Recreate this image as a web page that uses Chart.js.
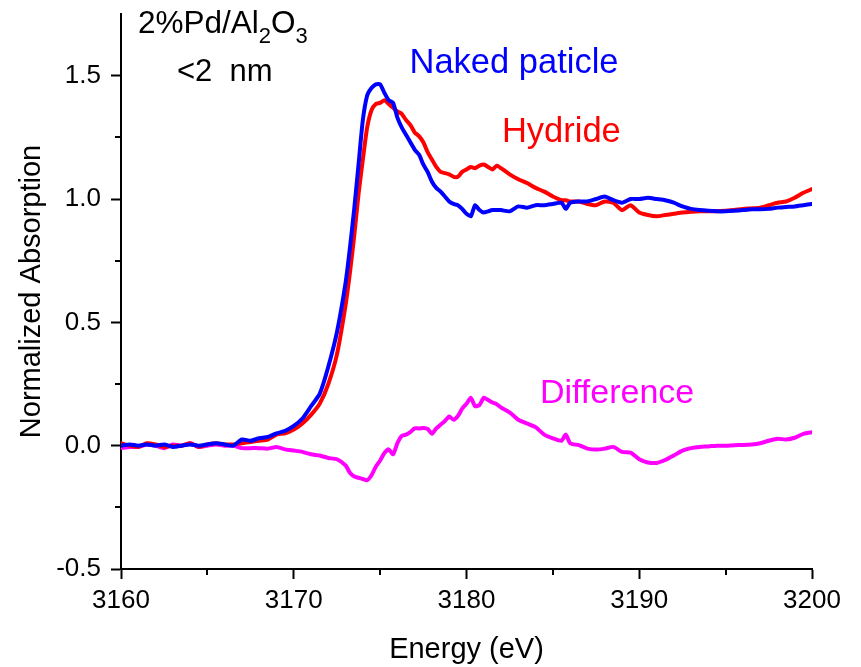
<!DOCTYPE html>
<html>
<head>
<meta charset="utf-8">
<script src="https://cdn.jsdelivr.net/npm/chart.js@4/dist/chart.umd.min.js"></script>
<style>
  body { margin: 0; background: #fff; }
  #wrap { width: 861px; height: 667px; position: relative; }
</style>
</head>
<body>
<div id="wrap"><canvas id="xasChart"></canvas></div>
<script>
// Pd L3-edge XANES, 2%Pd/Al2O3 (<2 nm)
const energy = [
  3160, 3160.5, 3161, 3161.5, 3162, 3162.5, 3163, 3163.5, 3164, 3164.5,
  3165, 3165.5, 3166, 3166.5, 3167, 3167.5, 3168, 3168.5, 3169, 3169.5,
  3170, 3170.5, 3171, 3171.5, 3172, 3172.5, 3173, 3173.25, 3173.5, 3173.75,
  3174, 3174.25, 3174.5, 3174.75, 3175, 3175.25, 3175.5, 3175.75, 3176, 3176.25,
  3176.5, 3176.75, 3177, 3177.25, 3177.5, 3177.75, 3178, 3178.25, 3178.5, 3178.75,
  3179, 3179.25, 3179.5, 3179.75, 3180, 3180.25, 3180.5, 3180.75, 3181, 3181.25,
  3181.5, 3181.75, 3182, 3182.5, 3183, 3183.5, 3184, 3184.5, 3185, 3185.5,
  3185.75, 3186, 3186.5, 3187, 3187.5, 3188, 3188.5, 3189, 3189.5, 3190,
  3190.5, 3191, 3191.5, 3192, 3192.5, 3193, 3193.5, 3194, 3194.5, 3195,
  3195.5, 3196, 3196.5, 3197, 3197.5, 3198, 3198.5, 3199, 3199.5, 3200
];
const naked = [
  0.00, 0.005, 0.00, 0.005, 0.00, 0.005, -0.005, 0.00, 0.005, 0.00,
  0.005, 0.01, 0.005, 0.00, 0.025, 0.02, 0.03, 0.035, 0.05, 0.06,
  0.08, 0.11, 0.16, 0.21, 0.32, 0.46, 0.66, 0.80, 0.96, 1.14,
  1.32, 1.42, 1.45, 1.465, 1.465, 1.43, 1.40, 1.39, 1.33, 1.29,
  1.26, 1.23, 1.20, 1.18, 1.14, 1.11, 1.07, 1.045, 1.03, 1.01,
  0.99, 0.98, 0.975, 0.96, 0.94, 0.93, 0.975, 0.955, 0.945, 0.95,
  0.955, 0.955, 0.955, 0.95, 0.97, 0.965, 0.975, 0.975, 0.98, 0.985,
  0.96, 0.985, 0.99, 0.99, 1.00, 1.01, 0.995, 0.985, 1.00, 1.00,
  1.005, 1.00, 0.995, 0.985, 0.97, 0.96, 0.955, 0.952, 0.95, 0.95,
  0.952, 0.955, 0.958, 0.958, 0.96, 0.965, 0.968, 0.97, 0.975, 0.98
];
const hydride = [
  0.01, 0.00, -0.005, 0.01, 0.005, -0.005, 0.00, 0.00, 0.01, -0.005,
  0.005, 0.01, 0.005, 0.005, 0.01, 0.015, 0.02, 0.025, 0.045, 0.05,
  0.065, 0.09, 0.125, 0.17, 0.25, 0.37, 0.57, 0.70, 0.85, 1.02,
  1.16, 1.29, 1.36, 1.385, 1.39, 1.40, 1.385, 1.37, 1.355, 1.345,
  1.32, 1.30, 1.27, 1.255, 1.23, 1.19, 1.16, 1.13, 1.11, 1.105,
  1.10, 1.09, 1.09, 1.11, 1.12, 1.13, 1.125, 1.135, 1.14, 1.13,
  1.12, 1.135, 1.125, 1.10, 1.08, 1.065, 1.045, 1.03, 1.01, 0.995,
  0.995, 0.99, 0.99, 0.98, 0.975, 0.99, 0.985, 0.955, 0.975, 0.945,
  0.935, 0.93, 0.935, 0.94, 0.945, 0.948, 0.95, 0.95, 0.95, 0.952,
  0.955, 0.96, 0.962, 0.965, 0.975, 0.985, 0.99, 1.005, 1.025, 1.04
];
const difference = [
  -0.01, -0.005, -0.005, 0.005, 0.00, -0.01, 0.005, 0.00, 0.01, -0.005,
  0.00, 0.005, 0.00, 0.00, -0.01, -0.01, -0.01, -0.012, -0.005, -0.015,
  -0.02, -0.025, -0.035, -0.04, -0.05, -0.055, -0.08, -0.11, -0.125, -0.13,
  -0.135, -0.14, -0.12, -0.085, -0.06, -0.03, -0.015, -0.035, 0.01, 0.04,
  0.045, 0.055, 0.07, 0.07, 0.072, 0.068, 0.048, 0.07, 0.085, 0.10,
  0.118, 0.105, 0.12, 0.15, 0.17, 0.194, 0.16, 0.165, 0.194, 0.185,
  0.175, 0.168, 0.155, 0.135, 0.105, 0.09, 0.075, 0.045, 0.03, 0.02,
  0.045, 0.01, 0.002, -0.012, -0.016, -0.012, -0.005, -0.025, -0.028, -0.055,
  -0.068, -0.07, -0.058, -0.04, -0.02, -0.01, -0.005, -0.003, 0.00, 0.00,
  0.002, 0.003, 0.005, 0.01, 0.02, 0.028, 0.025, 0.032, 0.048, 0.055
];
const xMajor = [3160, 3170, 3180, 3190, 3200];
const xMinor = [3165, 3175, 3185, 3195];
const yMinor = [-0.25, 0.25, 0.75, 1.25];

const FONT = "'Liberation Sans', Arial, Helvetica, sans-serif";

function pts(ys) {
  return energy.map((e, i) => ({ x: e, y: ys[i] }));
}

// short minor ticks, the library only draws one tick length per axis
const minorTicks = {
  id: 'minorTicks',
  afterDraw(chart) {
    const { ctx, scales: { x, y } } = chart;
    ctx.save();
    ctx.strokeStyle = '#000';
    ctx.lineWidth = 2;
    xMinor.forEach(v => {
      const px = Math.round(x.getPixelForValue(v));
      ctx.beginPath();
      ctx.moveTo(px, x.top);
      ctx.lineTo(px, x.top + 6);
      ctx.stroke();
    });
    yMinor.forEach(v => {
      const py = Math.round(y.getPixelForValue(v));
      ctx.beginPath();
      ctx.moveTo(y.right, py);
      ctx.lineTo(y.right - 6, py);
      ctx.stroke();
    });
    ctx.restore();
  }
};

// text labels placed in data coordinates
const labels = {
  id: 'labels',
  afterDraw(chart) {
    const { ctx, scales: { x, y } } = chart;
    ctx.save();
    ctx.textBaseline = 'alphabetic';
    ctx.textAlign = 'left';

    const put = (txt, ex, ey, color, size) => {
      ctx.font = size + 'px ' + FONT;
      ctx.fillStyle = color;
      ctx.fillText(txt, x.getPixelForValue(ex), y.getPixelForValue(ey));
    };
    put('Naked paticle', 3176.7, 1.51, '#0000ff', 34.5);
    put('Hydride', 3182.05, 1.23, '#ff0000', 34.5);
    put('Difference', 3184.25, 0.174, '#ff00ff', 34);

    // sample name with subscripts
    let px = x.getPixelForValue(3160.98);
    const py = y.getPixelForValue(1.672);
    const parts = [['2%Pd/Al', 0, 31.5], ['2', 10, 22], ['O', 0, 31.5], ['3', 10, 22]];
    ctx.fillStyle = '#000';
    parts.forEach(([t, dy, s]) => {
      ctx.font = s + 'px ' + FONT;
      ctx.fillText(t, px, py + dy);
      px += ctx.measureText(t).width;
    });
    ctx.font = '31px ' + FONT;
    ctx.fillText('<2  nm', x.getPixelForValue(3163.24), y.getPixelForValue(1.478));
    ctx.restore();
  }
};

new Chart(document.getElementById('xasChart'), {
  type: 'line',
  data: {
    datasets: [
      { label: 'Naked paticle', data: pts(naked), borderColor: '#0000ff', borderWidth: 4 },
      { label: 'Hydride', data: pts(hydride), borderColor: '#ff0000', borderWidth: 4 },
      { label: 'Difference', data: pts(difference), borderColor: '#ff00ff', borderWidth: 4 }
    ]
  },
  options: {
    responsive: true,
    maintainAspectRatio: false,
    animation: false,
    layout: { padding: { left: 0, right: 49, top: 14, bottom: 0 } },
    elements: { point: { radius: 0 }, line: { tension: 0.2, borderJoinStyle: 'round', borderCapStyle: 'round' } },
    plugins: { legend: { display: false }, tooltip: { enabled: false } },
    scales: {
      x: {
        type: 'linear',
        min: 3160,
        max: 3200,
        afterFit: s => { s.height = 98; s.paddingLeft = 0; s.paddingRight = 0; },
        afterBuildTicks: s => { s.ticks = xMajor.map(v => ({ value: v })); },
        border: { display: true, color: '#000', width: 2 },
        grid: { drawOnChartArea: false, drawTicks: true, tickLength: 10, tickWidth: 2, tickColor: '#000' },
        ticks: { color: '#000', font: { family: FONT, size: 26 }, padding: 6, maxRotation: 0, callback: v => String(v) },
        title: { display: true, text: 'Energy (eV)', color: '#000', font: { family: FONT, size: 29 }, padding: { top: 4, bottom: 0 } }
      },
      y: {
        min: -0.5,
        max: 1.75,
        afterFit: s => { s.width = 121; s.paddingTop = 0; s.paddingBottom = 0; },
        border: { display: true, color: '#000', width: 2 },
        grid: { drawOnChartArea: false, drawTicks: true, tickLength: 10, tickWidth: 2, tickColor: '#000' },
        ticks: {
          stepSize: 0.5,
          includeBounds: false,
          color: '#000',
          font: { family: FONT, size: 26 },
          padding: 10,
          callback: v => v.toFixed(1)
        },
        title: { display: true, text: 'Normalized Absorption', color: '#000', font: { family: FONT, size: 29 }, padding: { top: 15, bottom: 0 } }
      }
    }
  },
  plugins: [minorTicks, labels]
});
</script>
</body>
</html>
